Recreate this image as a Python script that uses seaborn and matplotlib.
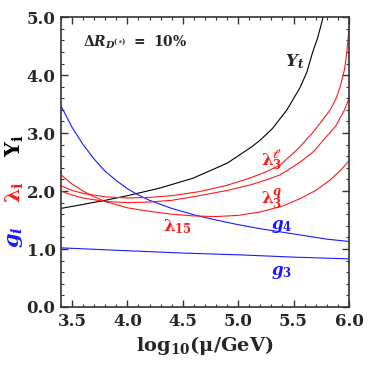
import numpy as np
import pandas as pd
import matplotlib
matplotlib.use("Agg")
import matplotlib.pyplot as plt
import seaborn as sns
from matplotlib.ticker import MultipleLocator

# values, x = log10(mu/GeV)
yt_x = [3.4, 3.6, 3.8, 4.0, 4.29, 4.59, 4.9, 5.12, 5.2, 5.31, 5.44, 5.56, 5.62, 5.67, 5.72, 5.76, 5.8]
yt_y = [1.70, 1.77, 1.84, 1.92, 2.05, 2.22, 2.48, 2.76, 2.88, 3.08, 3.40, 3.79, 4.05, 4.38, 4.66, 4.95, 5.30]

g4_x = [3.4, 3.5, 3.6, 3.7, 3.8, 3.9, 4.0, 4.1, 4.2, 4.4, 4.6, 4.8, 5.0, 5.2, 5.4, 5.6, 5.8, 6.0]
g4_y = [3.47, 3.10, 2.80, 2.55, 2.34, 2.18, 2.04, 1.93, 1.84, 1.70, 1.59, 1.50, 1.42, 1.35, 1.29, 1.23, 1.17, 1.13]

g3_x = [3.4, 4.0, 4.5, 5.0, 5.5, 6.0]
g3_y = [1.02, 0.97, 0.93, 0.90, 0.86, 0.83]

l15_x = [3.4, 3.5, 3.6, 3.7, 3.8, 4.0, 4.2, 4.4, 4.6, 4.8, 5.0, 5.2, 5.4, 5.56, 5.7, 5.83, 5.93, 6.0]
l15_y = [2.28, 2.12, 2.00, 1.90, 1.82, 1.71, 1.65, 1.60, 1.57, 1.56, 1.58, 1.64, 1.74, 1.87, 2.01, 2.19, 2.37, 2.52]

l3l_x = [3.4, 3.5, 3.6, 3.8, 4.0, 4.2, 4.4, 4.65, 4.9, 5.1, 5.25, 5.38, 5.53, 5.67, 5.76, 5.83, 5.88, 5.92, 5.96, 5.98, 6.0]
l3l_y = [2.09, 2.01, 1.96, 1.90, 1.88, 1.89, 1.92, 1.99, 2.10, 2.22, 2.33, 2.45, 2.71, 3.00, 3.22, 3.40, 3.58, 3.79, 4.10, 4.38, 4.78]

l3q_x = [3.4, 3.5, 3.6, 3.8, 4.0, 4.2, 4.4, 4.65, 4.9, 5.1, 5.25, 5.38, 5.56, 5.68, 5.77, 5.88, 5.96, 6.0]
l3q_y = [2.00, 1.93, 1.88, 1.82, 1.80, 1.81, 1.84, 1.92, 2.01, 2.10, 2.19, 2.28, 2.50, 2.68, 2.88, 3.12, 3.40, 3.60]

RED = "#ff1a1a"
BLUE = "#1a1aff"

sns.set_style("ticks")
plt.rcParams["font.family"] = ["DejaVu Serif"]
plt.rcParams["font.weight"] = "bold"
plt.rcParams["mathtext.fontset"] = "dejavuserif"
plt.rcParams["mathtext.default"] = "bf"

fig = plt.figure(figsize=(3.74, 3.65), dpi=100)
ax = fig.add_axes([0.163, 0.159, 0.77, 0.794])

curves = [
    (yt_x, yt_y, "black"),
    (g4_x, g4_y, BLUE),
    (g3_x, g3_y, BLUE),
    (l15_x, l15_y, RED),
    (l3l_x, l3l_y, RED),
    (l3q_x, l3q_y, RED),
]
for xs, ys, col in curves:
    df = pd.DataFrame({"x": xs, "y": ys})
    sns.lineplot(data=df, x="x", y="y", color=col, lw=0.8, ax=ax, sort=False)

ax.set_xlim(3.4, 6.0)
ax.set_ylim(0.0, 5.0)
ax.xaxis.set_major_locator(MultipleLocator(0.5))
ax.xaxis.set_minor_locator(MultipleLocator(0.1))
ax.yaxis.set_major_locator(MultipleLocator(1.0))
ax.yaxis.set_minor_locator(MultipleLocator(0.2))
ax.xaxis.set_major_formatter(plt.FormatStrFormatter("%.1f"))
ax.yaxis.set_major_formatter(plt.FormatStrFormatter("%.1f"))
ax.tick_params(which="both", direction="in", top=True, right=True, color="#333333")
ax.tick_params(which="major", length=5, width=1.0, labelsize=12, pad=4)
ax.tick_params(which="minor", length=2.5, width=0.8)
for s in ax.spines.values():
    s.set_linewidth(1.2)
    s.set_color("#333333")

ax.set_xlabel("log$_{10}$(μ/GeV)", fontsize=14, fontweight="bold", labelpad=3)
ax.set_ylabel("")

fig.text(0.04, 0.35, r"$\mathbfit{g_i}$", color=BLUE, rotation=90, fontsize=15, ha="center", va="center")
fig.text(0.04, 0.475, r"$\boldsymbol{\lambda_i}$", color=RED, rotation=90, fontsize=15, ha="center", va="center")
fig.text(0.04, 0.60, r"$\mathbf{Y_i}$", color="black", rotation=90, fontsize=15, ha="center", va="center")

ax.text(3.6, 4.5, r"$\mathbf{\Delta}\mathbfit{R}_{\mathbfit{D}^{(\ast)}}\mathbf{\ =\ 10\%}$", fontsize=10)
ax.text(5.42, 4.15, r"$\mathbfit{Y_t}$", fontsize=12)
ax.text(5.21, 2.45, r"$\boldsymbol{\lambda}_\mathbf{3}^{\boldsymbol{\ell}}$", color=RED, fontsize=12)
ax.text(5.21, 1.78, r"$\boldsymbol{\lambda}_\mathbf{3}^{\mathbfit{q}}$", color=RED, fontsize=12)
ax.text(4.32, 1.3, r"$\boldsymbol{\lambda}_\mathbf{15}$", color=RED, fontsize=12)
ax.text(5.3, 1.35, r"$\mathbfit{g}_\mathbf{4}$", color=BLUE, fontsize=12)
ax.text(5.3, 0.56, r"$\mathbfit{g}_\mathbf{3}$", color=BLUE, fontsize=12)

fig.savefig("out.png", dpi=100)
